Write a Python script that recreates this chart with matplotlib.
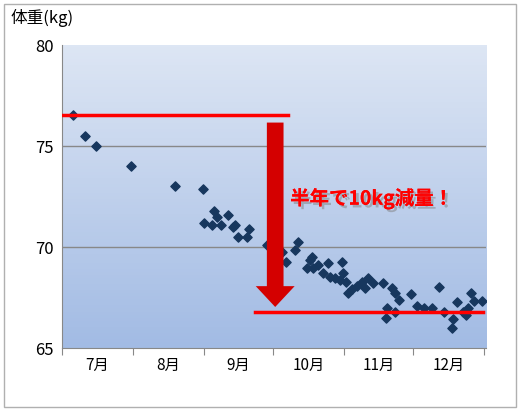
import matplotlib
matplotlib.use("Agg")
import matplotlib.pyplot as plt
import numpy as np
from matplotlib.colors import LinearSegmentedColormap
import matplotlib.patheffects as pe

plt.rcParams['font.family'] = ['Noto Sans CJK JP', 'DejaVu Sans']

days = [4.8,10.0,14.8,30.1,49.3,61.6,62.0,65.5,66.4,67.7,69.4,72.5,74.7,75.5,76.9,80.8,81.7,89.5,
        96.1,97.8,101.7,103.1,107.0,108.3,109.2,109.6,111.8,114.0,116.2,117.0,119.2,121.4,122.3,122.7,
        124.0,124.9,126.6,128.8,131.0,132.3,133.6,135.8,140.2,141.9,141.5,144.1,145.4,145.4,147.2,
        152.4,155.0,158.1,161.6,164.6,166.4,169.9,170.7,172.5,174.7,176.0,177.3,178.6,179.5,183.0]
weights = [76.53,75.5,75.0,74.0,73.0,72.9,71.2,71.1,71.8,71.5,71.1,71.6,71.0,71.1,70.5,70.5,70.9,70.1,
           69.75,69.25,69.85,70.25,68.95,69.35,69.5,68.95,69.1,68.7,69.2,68.5,68.45,68.35,69.25,68.7,
           68.25,67.75,67.95,68.1,68.25,68.0,68.45,68.2,68.2,67.0,66.5,68.0,67.75,66.8,67.4,
           67.7,67.1,67.0,67.0,68.05,66.8,66.0,66.45,67.3,66.8,66.65,67.0,67.75,67.35,67.35]
month_bounds = [0,31,62,92,123,153,184]
month_labels = ['7月','8月','9月','10月','11月','12月']
start_w, end_w = 76.55, 66.78

fig = plt.figure(figsize=(5.25,4.13), dpi=100)
fig.patch.set_facecolor('white')
fig.add_artist(plt.Rectangle((0.008,0.015),0.975,0.975, transform=fig.transFigure,
               fill=False, edgecolor='#b0b0b0', lw=1))
ax = fig.add_axes([0.118,0.157,0.808,0.734])
ax.set_xlim(0,185); ax.set_ylim(65,80)
cmap = LinearSegmentedColormap.from_list('g', ['#dde6f4','#a2bbe4'])
ax.imshow(np.linspace(0,1,100).reshape(-1,1), extent=[0,185,65,80], aspect='auto', cmap=cmap, zorder=0)
for y in [70,75]:
    ax.axhline(y, color='#888888', lw=1, zorder=1)
ax.scatter(days, weights, marker='D', s=22, color='#17375e', zorder=3)
ax.plot([0,98.7],[start_w,start_w], color='red', lw=2.5, zorder=4)
ax.plot([84.3,183.5],[end_w,end_w], color='red', lw=2.5, zorder=4)
ax.annotate('', xy=(93,66.9), xytext=(93,76.3),
            arrowprops=dict(arrowstyle='simple,head_width=2.8,head_length=1.5,tail_width=1.2',
                            color='#d40000', lw=0), zorder=5)
ax.text(99.5,72.1,'半年で10kg減量！', color='red', fontsize=14, fontweight='bold', style='italic',
        zorder=6, path_effects=[pe.withSimplePatchShadow(offset=(2,-2), shadow_rgbFace='gray', alpha=0.5), pe.Normal()])
ax.set_yticks([65,70,75,80])
ax.tick_params(axis='y', labelsize=12, length=0, pad=6)
ax.set_xticks(month_bounds)
ax.set_xticklabels([])
ax.set_xticks([(month_bounds[i]+month_bounds[i+1])/2 for i in range(6)], minor=True)
ax.set_xticklabels(month_labels, minor=True, fontsize=11)
ax.tick_params(axis='x', which='major', length=5, direction='out', color='#888888')
ax.tick_params(axis='x', which='minor', length=0, pad=6)
for s in ['top','right']:
    ax.spines[s].set_visible(False)
for s in ['left','bottom']:
    ax.spines[s].set_color('#888888')
fig.text(0.02,0.945,'体重(kg)', fontsize=12)
fig.savefig('out.png', dpi=100)
